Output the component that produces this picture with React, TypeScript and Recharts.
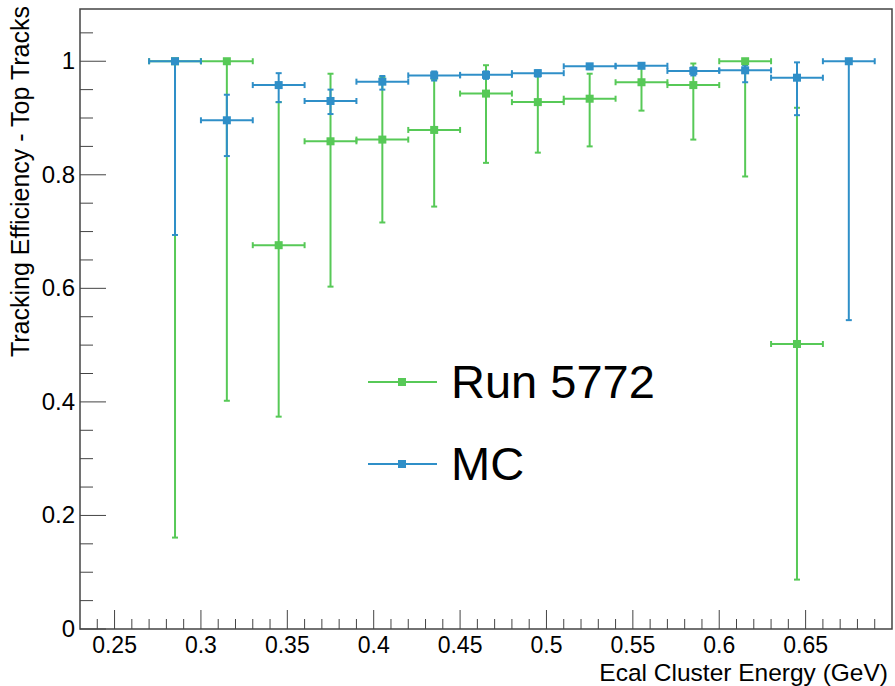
import React from 'react';
import { ComposedChart, Scatter, XAxis, YAxis, ErrorBar, ReferenceArea, Legend, Label } from 'recharts';

// Run 5772 (data), bins of 0.03 GeV
const runEnergy = [0.285, 0.315, 0.345, 0.375, 0.405, 0.435, 0.465, 0.495, 0.525, 0.555, 0.585, 0.615, 0.645];
const runEff = [1.0, 1.0, 0.676, 0.859, 0.862, 0.879, 0.943, 0.928, 0.934, 0.963, 0.958, 1.0, 0.502];
const runLow = [0.161, 0.402, 0.374, 0.603, 0.716, 0.744, 0.821, 0.839, 0.85, 0.913, 0.862, 0.797, 0.087];
const runHigh = [1.0, 1.0, 0.928, 0.978, 0.972, 0.968, 0.993, 0.975, 0.978, 0.99, 0.996, 1.0, 0.918];

// MC
const mcEnergy = [0.285, 0.315, 0.345, 0.375, 0.405, 0.435, 0.465, 0.495, 0.525, 0.555, 0.585, 0.615, 0.645, 0.675];
const mcEff = [1.0, 0.896, 0.958, 0.93, 0.964, 0.975, 0.976, 0.979, 0.991, 0.992, 0.983, 0.984, 0.971, 1.0];
const mcLow = [0.694, 0.833, 0.928, 0.907, 0.95, 0.966, 0.969, 0.973, 0.986, 0.988, 0.975, 0.963, 0.905, 0.544];
const mcHigh = [1.0, 0.941, 0.979, 0.95, 0.974, 0.982, 0.982, 0.984, 0.995, 0.996, 0.989, 0.993, 0.998, 1.0];

const binHalfWidth = 0.015;

const majorX = [0.25, 0.3, 0.35, 0.4, 0.45, 0.5, 0.55, 0.6, 0.65];
const allX = [
  0.24, 0.25, 0.26, 0.27, 0.28, 0.29, 0.3, 0.31, 0.32, 0.33, 0.34, 0.35, 0.36, 0.37, 0.38, 0.39,
  0.4, 0.41, 0.42, 0.43, 0.44, 0.45, 0.46, 0.47, 0.48, 0.49, 0.5, 0.51, 0.52, 0.53, 0.54, 0.55,
  0.56, 0.57, 0.58, 0.59, 0.6, 0.61, 0.62, 0.63, 0.64, 0.65, 0.66, 0.67, 0.68, 0.69,
];
const majorY = [0, 0.2, 0.4, 0.6, 0.8, 1];
const allY = [
  0, 0.05, 0.1, 0.15, 0.2, 0.25, 0.3, 0.35, 0.4, 0.45, 0.5, 0.55, 0.6, 0.65, 0.7, 0.75, 0.8,
  0.85, 0.9, 0.95, 1, 1.05,
];

const GREEN = '#57c957';
const BLUE = '#2f8fc8';
const AXIS = '#444';
const FONT = '"Liberation Sans", Arial, Helvetica, sans-serif';

const toRows = (xs: number[], eff: number[], lo: number[], hi: number[]) =>
  xs.map((x, i) => ({
    x,
    y: eff[i],
    ex: binHalfWidth,
    ey: [eff[i] - lo[i], hi[i] - eff[i]],
  }));

const runData = toRows(runEnergy, runEff, runLow, runHigh);
const mcData = toRows(mcEnergy, mcEff, mcLow, mcHigh);

const isMajor = (list: number[], v: number) => list.some(m => Math.abs(m - v) < 1e-6);

const XTick = (props: any) => {
  const { x, y, payload } = props;
  const major = isMajor(majorX, payload.value);
  return (
    <g>
      <line x1={x} x2={x} y1={y} y2={y - (major ? 19 : 10)} stroke={AXIS} strokeWidth={1} />
      {major && (
        <text x={x} y={y + 24} textAnchor="middle" fontSize={23} fontFamily={FONT} fill="#000">
          {String(payload.value)}
        </text>
      )}
    </g>
  );
};

const YTick = (props: any) => {
  const { x, y, payload } = props;
  const major = isMajor(majorY, payload.value);
  return (
    <g>
      <line x1={x} x2={x + (major ? 26 : 13)} y1={y} y2={y} stroke={AXIS} strokeWidth={1} />
      {major && (
        <text x={x - 5} y={y + 8} textAnchor="end" fontSize={24} fontFamily={FONT} fill="#000">
          {String(payload.value)}
        </text>
      )}
    </g>
  );
};

const square = (color: string) => (props: any) => {
  const { cx, cy } = props;
  return <rect x={cx - 4} y={cy - 4} width={8} height={8} fill={color} />;
};

const LegendBox = () => (
  <svg width={320} height={145} style={{ display: 'block' }}>
    <line x1={8} x2={77} y1={32} y2={32} stroke={GREEN} strokeWidth={2} />
    <rect x={38} y={28} width={8} height={8} fill={GREEN} />
    <text x={91} y={48} fontSize={47} fontFamily={FONT} fill="#000">Run 5772</text>
    <line x1={8} x2={77} y1={114} y2={114} stroke={BLUE} strokeWidth={2} />
    <rect x={38} y={110} width={8} height={8} fill={BLUE} />
    <text x={91} y={130} fontSize={47} fontFamily={FONT} fill="#000">MC</text>
  </svg>
);

export default function App() {
  return (
    <div style={{ position: 'absolute', left: 0, top: 0, background: '#fff' }}>
      <ComposedChart width={895} height={686} margin={{ top: 9, right: 3, bottom: 0, left: 0 }}>
        <XAxis
          dataKey="x"
          type="number"
          domain={[0.23, 0.7]}
          allowDataOverflow
          ticks={allX}
          interval={0}
          tickSize={0}
          tickMargin={0}
          axisLine={false}
          tick={<XTick />}
          height={57}
        >
          <Label
            content={() => (
              <text x={888} y={681} textAnchor="end" fontSize={24.5} fontFamily={FONT} fill="#000">
                Ecal Cluster Energy (GeV)
              </text>
            )}
          />
        </XAxis>
        <YAxis
          dataKey="y"
          type="number"
          domain={[0, 1.092]}
          allowDataOverflow
          ticks={allY}
          interval={0}
          tickSize={0}
          tickMargin={0}
          axisLine={false}
          tick={<YTick />}
          width={80}
        >
          <Label
            content={() => (
              <text
                x={29}
                y={6}
                transform="rotate(-90 29 6)"
                textAnchor="end"
                fontSize={25}
                fontFamily={FONT}
                fill="#000"
              >
                Tracking Efficiency - Top Tracks
              </text>
            )}
          />
        </YAxis>
        <ReferenceArea
          x1={0.23}
          x2={0.7}
          y1={0}
          y2={1.092}
          fill="none"
          stroke={AXIS}
          strokeWidth={1.5}
          ifOverflow="visible"
        />
        <Scatter name="Run 5772" data={runData} fill={GREEN} shape={square(GREEN)} isAnimationActive={false}>
          <ErrorBar dataKey="ey" direction="y" width={3} stroke={GREEN} strokeWidth={2} />
          <ErrorBar dataKey="ex" direction="x" width={3} stroke={GREEN} strokeWidth={2} />
        </Scatter>
        <Scatter name="MC" data={mcData} fill={BLUE} shape={square(BLUE)} isAnimationActive={false}>
          <ErrorBar dataKey="ey" direction="y" width={3} stroke={BLUE} strokeWidth={2} />
          <ErrorBar dataKey="ex" direction="x" width={3} stroke={BLUE} strokeWidth={2} />
        </Scatter>
        <Legend
          layout="horizontal"
          verticalAlign="middle"
          align="center"
          wrapperStyle={{ left: 360, top: 350, width: 320, height: 145 }}
          content={() => <LegendBox />}
        />
      </ComposedChart>
    </div>
  );
}
